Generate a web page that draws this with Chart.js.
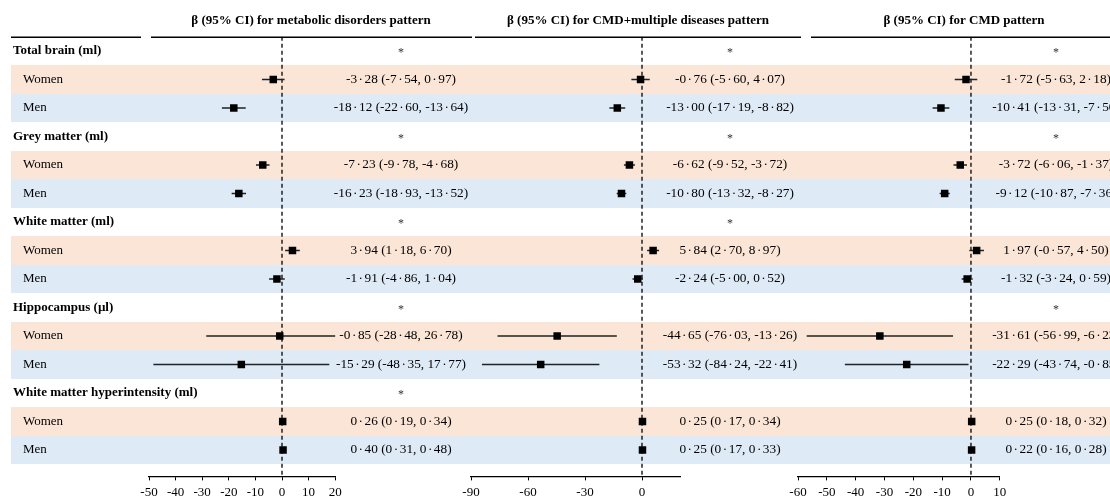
<!DOCTYPE html>
<html><head><meta charset="utf-8">
<script src="https://cdn.jsdelivr.net/npm/chart.js@4.4.1/dist/chart.umd.min.js"></script>
<style>
html,body{margin:0;padding:0;background:#fff;}
#wrap{position:relative;width:1110px;height:500px;overflow:hidden;background:#fff;}
#wrap canvas{position:absolute;top:0;}
</style></head><body><div id="wrap">
<canvas id="bg"></canvas>
<canvas id="p1"></canvas><canvas id="p2"></canvas><canvas id="p3"></canvas>
</div>
<script>
// ---------------- data ----------------
const outcomes = ['Total brain (ml)', 'Grey matter (ml)', 'White matter (ml)', 'Hippocampus (µl)', 'White matter hyperintensity (ml)'];
const sexes = ['Women', 'Men'];
const patternTitles = ['β (95% CI) for metabolic disorders pattern', 'β (95% CI) for CMD+multiple diseases pattern', 'β (95% CI) for CMD pattern'];

// order: outcome1 Women, outcome1 Men, outcome2 Women, ...
const metabolicBeta  = [-3.28, -18.12, -7.23, -16.23, 3.94, -1.91, -0.85, -15.29, 0.26, 0.40];
const metabolicLower = [-7.54, -22.60, -9.78, -18.93, 1.18, -4.86, -28.48, -48.35, 0.19, 0.31];
const metabolicUpper = [0.97, -13.64, -4.68, -13.52, 6.70, 1.04, 26.78, 17.77, 0.34, 0.48];
const metabolicStars = [true, true, true, true, true];

const cmdMultiBeta  = [-0.76, -13.00, -6.62, -10.80, 5.84, -2.24, -44.65, -53.32, 0.25, 0.25];
const cmdMultiLower = [-5.60, -17.19, -9.52, -13.32, 2.70, -5.00, -76.03, -84.24, 0.17, 0.17];
const cmdMultiUpper = [4.07, -8.82, -3.72, -8.27, 8.97, 0.52, -13.26, -22.41, 0.34, 0.33];
const cmdMultiStars = [true, true, true, false, false];

const cmdBeta  = [-1.72, -10.41, -3.72, -9.12, 1.97, -1.32, -31.61, -22.29, 0.25, 0.22];
const cmdLower = [-5.63, -13.31, -6.06, -10.87, -0.57, -3.24, -56.99, -43.74, 0.18, 0.16];
const cmdUpper = [2.18, -7.50, -1.37, -7.36, 4.50, 0.59, -6.23, -0.85, 0.32, 0.28];
const cmdStars = [true, true, false, true, false];

const metabolicTicks = [-50, -40, -30, -20, -10, 0, 10, 20];
const cmdMultiTicks  = [-90, -60, -30, 0];
const cmdTicks       = [-60, -50, -40, -30, -20, -10, 0, 10];
const metabolicRange = [-50, 20];
const cmdMultiRange  = [-90, 20];
const cmdRange       = [-60, 10];

// ---------------- layout ----------------
const SERIF = '"Liberation Serif", "Times New Roman", serif';
const W = 1110, CANVAS_H = 504;
const ROW_H = 28.5, AREA_TOP = 36.75, AREA_BOTTOM = 476.4;
const Y_MAX = -0.5 + (AREA_BOTTOM - AREA_TOP) / ROW_H;
const SIDE = 24;
const PANEL_GEO = [{left: 149, width: 186.2}, {left: 471, width: 209}, {left: 798, width: 201.8}];
const TEXT_X = [401, 730, 1056];
const TITLE_X = [311, 638, 964];
const RULES = [[11, 141], [151, 472], [475, 801], [811, 1117]];
const WOMEN_BG = '#FBE5D6', MEN_BG = '#DEEBF7';
const DOT_W = 7.5;

const rowOf = i => 3 * Math.floor(i / 2) + 1 + (i % 2);
const fmt = v => v.toFixed(2).replace('.', '·');

const panels = [
  {beta: metabolicBeta, lower: metabolicLower, upper: metabolicUpper, stars: metabolicStars, ticks: metabolicTicks, range: metabolicRange},
  {beta: cmdMultiBeta, lower: cmdMultiLower, upper: cmdMultiUpper, stars: cmdMultiStars, ticks: cmdMultiTicks, range: cmdMultiRange},
  {beta: cmdBeta, lower: cmdLower, upper: cmdUpper, stars: cmdStars, ticks: cmdTicks, range: cmdRange}
];

// draws text centred at cx, with the decimal middle dots given a wider slot
function drawDotText(ctx, text, cx, cy) {
  const parts = text.split('·');
  const widths = parts.map(p => ctx.measureText(p).width);
  const total = widths.reduce((a, b) => a + b, 0) + (parts.length - 1) * DOT_W;
  let x = cx - total / 2;
  ctx.textAlign = 'left';
  parts.forEach((p, i) => {
    ctx.fillText(p, x, cy);
    x += widths[i];
    if (i < parts.length - 1) {
      ctx.textAlign = 'center';
      ctx.fillText('·', x + DOT_W / 2, cy);
      ctx.textAlign = 'left';
      x += DOT_W;
    }
  });
}

// ---------------- background table chart ----------------
const tablePlugin = {
  id: 'table',
  beforeDatasetsDraw(chart) {
    const ctx = chart.ctx, x = chart.scales.x, y = chart.scales.y;
    ctx.save();
    // bands
    outcomes.forEach((o, g) => {
      sexes.forEach((s, k) => {
        const r = 3 * g + 1 + k;
        const t = Math.round(y.getPixelForValue(r - 0.5)), b = Math.round(y.getPixelForValue(r + 0.5));
        ctx.fillStyle = k === 0 ? WOMEN_BG : MEN_BG;
        const x0 = x.getPixelForValue(11);
        ctx.fillRect(x0, t, x.getPixelForValue(W) - x0, b - t);
      });
    });
    // header rules
    const ry = Math.round(y.getPixelForValue(-0.5)) + 0.25;
    ctx.strokeStyle = '#000'; ctx.lineWidth = 1.5;
    RULES.forEach(([a, b]) => {
      ctx.beginPath(); ctx.moveTo(x.getPixelForValue(a), ry); ctx.lineTo(x.getPixelForValue(b), ry); ctx.stroke();
    });
    // titles
    ctx.fillStyle = '#000'; ctx.textBaseline = 'middle'; ctx.textAlign = 'center';
    ctx.font = `bold 13px ${SERIF}`;
    patternTitles.forEach((t, p) => ctx.fillText(t, x.getPixelForValue(TITLE_X[p]), 20.5));
    // row labels
    ctx.textAlign = 'left';
    outcomes.forEach((o, g) => {
      ctx.font = `bold 13px ${SERIF}`;
      ctx.fillText(o, x.getPixelForValue(13), y.getPixelForValue(3 * g));
      ctx.font = `13px ${SERIF}`;
      sexes.forEach((s, k) => ctx.fillText(s, x.getPixelForValue(23), y.getPixelForValue(3 * g + 1 + k)));
    });
    // estimates and stars
    panels.forEach((p, pi) => {
      const cx = x.getPixelForValue(TEXT_X[pi]);
      ctx.font = `13.3px ${SERIF}`; ctx.fillStyle = '#000';
      p.beta.forEach((b, i) => {
        drawDotText(ctx, `${fmt(b)} (${fmt(p.lower[i])}, ${fmt(p.upper[i])})`, cx, y.getPixelForValue(rowOf(i)));
      });
      ctx.font = `12px ${SERIF}`; ctx.fillStyle = '#333'; ctx.textAlign = 'center';
      p.stars.forEach((st, g) => { if (st) ctx.fillText('*', cx, y.getPixelForValue(3 * g) + 2); });
    });
    ctx.restore();
  }
};

const bg = document.getElementById('bg');
bg.width = W; bg.height = CANVAS_H; bg.style.left = '0px';
new Chart(bg, {
  type: 'scatter',
  data: {datasets: [{data: []}]},
  options: {
    responsive: false, animation: false,
    layout: {padding: {left: 0, right: 0, top: AREA_TOP, bottom: CANVAS_H - AREA_BOTTOM}},
    plugins: {legend: {display: false}, tooltip: {enabled: false}},
    scales: {
      x: {type: 'linear', display: false, min: 0, max: W},
      y: {type: 'linear', display: false, reverse: true, min: -0.5, max: Y_MAX}
    }
  },
  plugins: [tablePlugin]
});

// ---------------- forest panels ----------------
function makePanel(id, geo, p) {
  const el = document.getElementById(id);
  const cl = Math.floor(geo.left - SIDE);
  const cw = Math.ceil(geo.left + geo.width + SIDE) - cl;
  el.width = cw; el.height = CANVAS_H; el.style.left = cl + 'px';
  const padL = geo.left - cl, padR = cw - padL - geo.width;
  const points = p.beta.map((b, i) => ({x: b, y: rowOf(i)}));
  const ci = [];
  p.lower.forEach((l, i) => { ci.push({x: l, y: rowOf(i)}, {x: p.upper[i], y: rowOf(i)}, {x: null, y: null}); });
  new Chart(el, {
    type: 'line',
    data: {datasets: [
      {data: points, showLine: false, pointStyle: 'rect', pointRadius: 5.3, pointBackgroundColor: '#000', pointBorderColor: '#000', pointBorderWidth: 0},
      {data: ci, borderColor: '#222', borderWidth: 1.6, pointRadius: 0, spanGaps: false},
      {data: [{x: 0, y: -0.5}, {x: 0, y: Y_MAX}], borderColor: '#000', borderWidth: 1.3, borderDash: [4, 3], pointRadius: 0}
    ]},
    options: {
      responsive: false, animation: false,
      layout: {padding: {left: padL, right: padR, top: AREA_TOP, bottom: 0}},
      plugins: {legend: {display: false}, tooltip: {enabled: false}},
      scales: {
        x: {
          type: 'linear', min: p.range[0], max: p.range[1],
          afterBuildTicks: s => { s.ticks = p.ticks.map(v => ({value: v})); },
          ticks: {font: {family: SERIF, size: 13}, color: '#000', padding: 4, maxRotation: 0, autoSkip: false, callback: v => String(v)},
          grid: {drawOnChartArea: false, drawTicks: true, tickLength: 4, color: '#000', lineWidth: 1},
          border: {display: true, color: '#000', width: 1.2}
        },
        y: {type: 'linear', display: false, reverse: true, min: -0.5, max: Y_MAX}
      }
    }
  });
}
makePanel('p1', PANEL_GEO[0], panels[0]);
makePanel('p2', PANEL_GEO[1], panels[1]);
makePanel('p3', PANEL_GEO[2], panels[2]);
</script>
</body></html>
